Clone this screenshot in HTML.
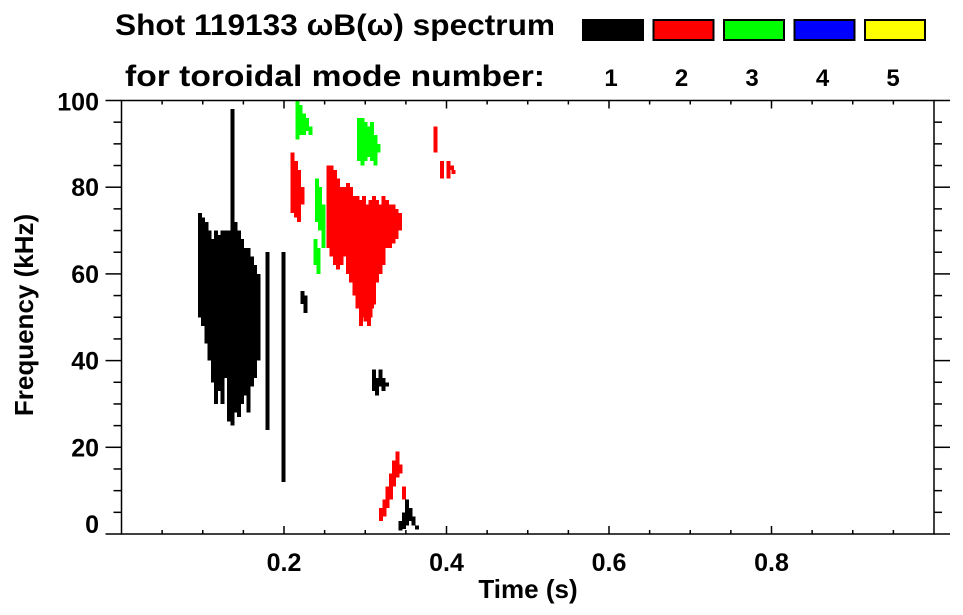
<!DOCTYPE html>
<html><head><meta charset="utf-8"><style>
html,body{margin:0;padding:0;background:#fff;width:963px;height:615px;overflow:hidden}
svg text{font-family:"Liberation Sans",Arial,sans-serif;font-weight:bold;fill:#000}
</style></head><body>
<svg id="chart" width="963" height="615" viewBox="0 0 963 615" xmlns="http://www.w3.org/2000/svg">
<text x="115" y="35" font-size="30" textLength="440" lengthAdjust="spacingAndGlyphs">Shot 119133 ωB(ω) spectrum</text>
<text x="125" y="86" font-size="30" textLength="420" lengthAdjust="spacingAndGlyphs">for toroidal mode number:</text>
<g id="legend"></g>
<g id="marks" shape-rendering="crispEdges"></g>
<g id="axes"></g>
<text x="528" y="598" font-size="26" text-anchor="middle">Time (s)</text>
<text transform="translate(33,315) rotate(-90)" font-size="26" text-anchor="middle">Frequency (kHz)</text>
</svg>
<script>
const modeLabels=["1","2","3","4","5"];
const modeColors=["#000000","#ff0000","#00ff00","#0000ff","#ffff00"];
const xTicks=[0.2,0.4,0.6,0.8];
const yTicks=[0,20,40,60,80,100];
// spectrogram segments: time (s), low freq (kHz), high freq (kHz), mode index
const segT=[0.094,0.098,0.102,0.106,0.110,0.114,0.118,0.122,0.126,0.130,0.134,0.134,0.138,0.142,0.146,0.150,0.154,0.158,0.162,0.166,
0.177,0.197,0.197,0.220,0.224,
0.208,0.212,0.216,0.220,
0.252,0.256,0.260,0.264,0.268,0.272,0.276,0.280,0.284,0.288,0.292,0.296,0.300,0.304,0.308,0.312,0.316,0.320,0.324,0.328,0.332,0.336,0.340,
0.294,0.298,0.302,0.306,
0.214,0.218,0.222,0.226,0.230,0.238,0.242,0.246,0.290,0.294,0.298,0.302,0.306,0.310,0.314,0.236,0.240,
0.308,0.312,0.316,0.320,0.324,0.384,0.392,0.400,0.404,0.406,
0.317,0.321,0.325,0.329,0.333,0.337,0.341,0.345,
0.341,0.345,0.349,0.353,0.357,0.361];
const segLo=[50,48,44,40,35,30,33,30,36,26,25,70,28,27,30,32,28,34,36,40,
24,24,12,53,51,
74,73,72,76,
66,64,62,61,62,64,60,58,55,52,48,50,50,50,53,58,60,62,66,66,67,68,70,
50,49,48,52,
91,92,92,93,92,72,70,66,86,85,86,87,86,85,88,62,60,
33,32,34,33,34,88,82,82,84,83,
3,4,6,8,11,13,14,8,
0.8,1.2,2,3,2,1];
const segHi=[74,73,72,70,68,70,69,70,70,70,70,98,72,70,68,66,66,64,62,60,
65,65,24,56,55,
88,86,84,80,
85,85,84,82,80,80,81,80,78,78,77,78,76,77,78,77,76,78,77,76,76,75,74,
58,56,55,56,
100,99,97,96,94,82,80,76,96,96,95,94,95,92,90,68,66,
38,36,38,36,35,94,86,86,85,84,
6,8,11,14,17,19,16,11,
3,5,8,6,4,2];
const segMode=[0,0,0,0,0,0,0,0,0,0,0,0,0,0,0,0,0,0,0,0,
0,0,0,0,0,
1,1,1,1,
1,1,1,1,1,1,1,1,1,1,1,1,1,1,1,1,1,1,1,1,1,1,1,
1,1,1,1,
2,2,2,2,2,2,2,2,2,2,2,2,2,2,2,2,2,
0,0,0,0,0,1,1,1,1,1,
1,1,1,1,1,1,1,1,
0,0,0,0,0,0];
const colW=0.004;
const X0=121.5,X1=934,Y0=534,Y1=100.5;
const xs=t=>X0+(t-0)/(1-0)*(X1-X0);
const ys=f=>Y0-(f-0)/(100-0)*(Y0-Y1);
const NS="http://www.w3.org/2000/svg";
function mk(tag,attrs,parent){const e=document.createElementNS(NS,tag);for(const k in attrs)e.setAttribute(k,attrs[k]);parent.appendChild(e);return e;}
const marks=document.getElementById('marks');
for(let i=0;i<segT.length;i++){
  const x=xs(segT[i]), w=xs(segT[i]+colW)-x+0.8;
  const r=mk('rect',{x:x.toFixed(2),y:ys(segHi[i]).toFixed(2),width:w.toFixed(2),height:(ys(segLo[i])-ys(segHi[i])).toFixed(2),fill:modeColors[segMode[i]]},marks);
  
  
}
const leg=document.getElementById('legend');
for(let i=0;i<modeLabels.length;i++){
  const lx=583+i*70.5;
  const b=mk('rect',{x:lx,y:20,width:60,height:20,fill:modeColors[i],stroke:'#000','stroke-width':2},leg);
  
  
  const t=mk('text',{x:lx+28,y:86,'font-size':24,'text-anchor':'middle'},leg);
  t.textContent=modeLabels[i];
  
  
}
const ax=document.getElementById('axes');
const ln=(x1,y1,x2,y2)=>mk('line',{x1,y1,x2,y2,stroke:'#000','stroke-width':1.5},ax);
const frame=mk('rect',{x:X0,y:Y1,width:X1-X0,height:Y0-Y1,fill:'none',stroke:'#000','stroke-width':1.5},ax);


for(let k=1;k<20;k++){const t=k*0.05,x=xs(t),L=(k%4===0)?8:4;ln(x,Y0,x,Y0-L);ln(x,Y1,x,Y1+L);}
for(let k=0;k<=20;k++){const f=k*5,y=ys(f),L=(k%4===0)?16:8;ln(X0,y,X0-L,y);ln(X1,y,X1+L,y);}
xTicks.forEach(v=>{const t=mk('text',{x:xs(v),y:571,'font-size':25,'text-anchor':'middle'},ax);t.textContent=v.toFixed(1);
 
 });
yTicks.forEach(v=>{let y=ys(v)+9;if(v===0)y=ys(v)-1;if(v===100)y=ys(v)+10;const t=mk('text',{x:99,y:y,'font-size':25,'text-anchor':'end'},ax);t.textContent=v;
 
 });
</script>
</body></html>
